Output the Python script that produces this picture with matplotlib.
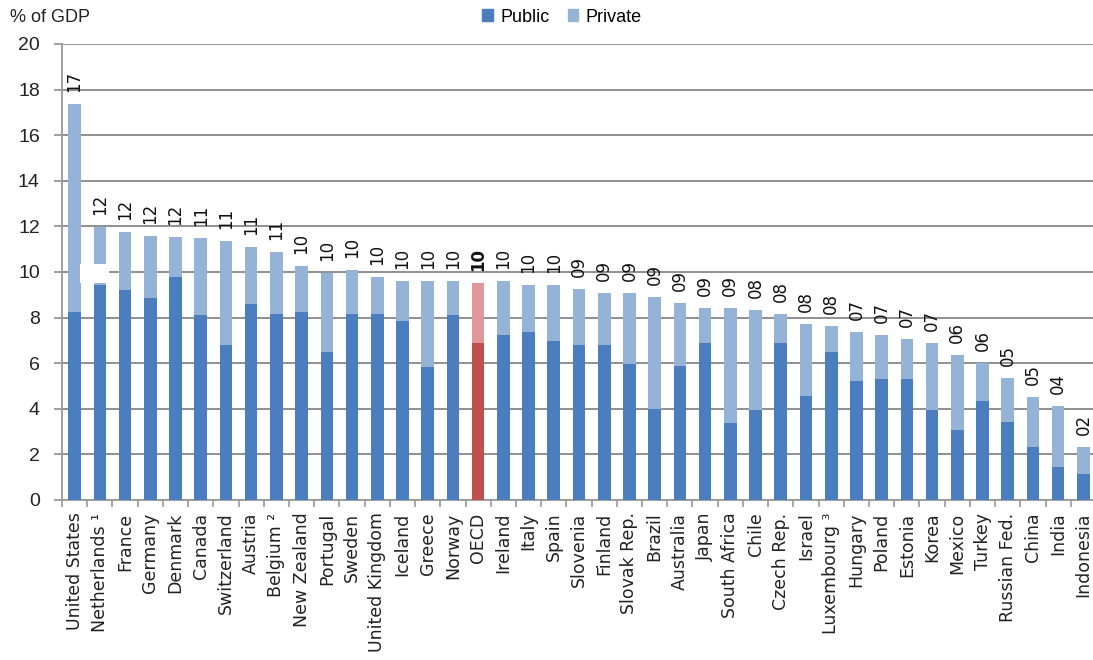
import matplotlib
matplotlib.use("Agg")
import matplotlib.pyplot as plt
from matplotlib.patches import Patch
import numpy as np

countries = [
    "United States", "Netherlands \u00b9", "France", "Germany", "Denmark", "Canada",
    "Switzerland", "Austria", "Belgium \u00b2", "New Zealand", "Portugal", "Sweden",
    "United Kingdom", "Iceland", "Greece", "Norway", "OECD", "Ireland", "Italy",
    "Spain", "Slovenia", "Finland", "Slovak Rep.", "Brazil", "Australia", "Japan",
    "South Africa", "Chile", "Czech Rep.", "Israel", "Luxembourg \u00b3", "Hungary",
    "Poland", "Estonia", "Korea", "Mexico", "Turkey", "Russian Fed.", "China",
    "India", "Indonesia",
]

public = [
    8.26, 9.45, 9.19, 8.84, 9.77, 8.10, 6.81, 8.61, 8.17, 8.26, 6.47, 8.17,
    8.17, 7.83, 5.82, 8.10, 6.88, 7.23, 7.35, 6.98, 6.79, 6.79, 5.96, 4.00,
    5.89, 6.88, 3.39, 3.93, 6.88, 4.54, 6.47, 5.21, 5.29, 5.29, 3.93, 3.08,
    4.36, 3.42, 2.33, 1.43, 1.16,
]

total = [
    17.39, 11.96, 11.77, 11.60, 11.52, 11.50, 11.35, 11.10, 10.88, 10.27, 9.96, 10.10,
    9.77, 9.60, 9.60, 9.60, 9.51, 9.60, 9.43, 9.43, 9.25, 9.08, 9.08, 8.92,
    8.65, 8.41, 8.41, 8.32, 8.16, 7.74, 7.64, 7.39, 7.24, 7.04, 6.88, 6.37,
    5.99, 5.37, 4.51, 4.12, 2.33,
]

value_labels = [
    "17", "12", "12", "12", "12", "11", "11", "11", "11", "10", "10", "10",
    "10", "10", "10", "10", "10", "10", "10", "10", "09", "09", "09", "09",
    "09", "09", "09", "08", "08", "08", "08", "07", "07", "07", "07", "06",
    "06", "05", "05", "04", "02",
]

# Axis break drawn across the Netherlands bar
break_country = "Netherlands \u00b9"
break_range = (9.50, 10.37)

y_ticks = [0, 2, 4, 6, 8, 10, 12, 14, 16, 18, 20]
highlight = "OECD"

PUBLIC_C = "#4a7ebf"
PRIVATE_C = "#95b3d7"
PUBLIC_HI = "#c0504d"
PRIVATE_HI = "#e0979b"

private = [t - p for t, p in zip(total, public)]
x = np.arange(len(countries))
hi = countries.index(highlight)

fig = plt.figure(figsize=(10.93, 6.60), dpi=100)
ax = fig.add_axes([62 / 1093, 160 / 660, 1034 / 1093, 456 / 660])

pub_colors = [PUBLIC_HI if c == highlight else PUBLIC_C for c in countries]
prv_colors = [PRIVATE_HI if c == highlight else PRIVATE_C for c in countries]

bw = 0.5
ax.bar(x, public, width=bw, color=pub_colors, zorder=3, linewidth=0)
ax.bar(x, private, bottom=public, width=bw, color=prv_colors, zorder=3, linewidth=0)

# white break patch
bi = countries.index(break_country)
ax.bar(x[bi] - 0.2, break_range[1] - break_range[0], bottom=break_range[0],
       width=1.15, color="white", zorder=4, linewidth=0)

for i, (t, lab) in enumerate(zip(total, value_labels)):
    ax.annotate(lab, xy=(x[i], t), xytext=(0, 12), textcoords="offset pixels",
                rotation=90, ha="center", va="bottom", fontsize=12,
                family="DejaVu Sans",
                fontweight="bold" if i == hi else "normal",
                color="#111111", zorder=5)

ax.set_xlim(-0.5, len(countries) - 0.5)
ax.set_ylim(0, 20)
ax.set_yticks(y_ticks)
ax.set_yticklabels([str(v) for v in y_ticks], fontsize=14, family="Liberation Sans",
                   color="#222222")
ax.yaxis.grid(True, color="#8f8f8f", linewidth=1.4, zorder=0)
ax.set_axisbelow(True)

ax.set_xticks(x)
ax.set_xticklabels(countries, rotation=90, fontsize=12.5, family="DejaVu Sans",
                   va="top", ha="center", color="#222222")
ax.set_xticks(np.arange(-0.5, len(countries), 1.0), minor=True)
ax.tick_params(axis="x", which="major", length=0, pad=9)
ax.tick_params(axis="x", which="minor", length=5, color="#999999", width=1.2)
ax.tick_params(axis="y", length=6, color="#8f8f8f", width=1.2, pad=10)

for s in ("top", "right"):
    ax.spines[s].set_visible(False)
for s in ("left", "bottom"):
    ax.spines[s].set_color("#999999")
    ax.spines[s].set_linewidth(1.3)

fig.text(10 / 1093, 1 - 18 / 660, "% of GDP", fontsize=13, family="Liberation Sans",
         ha="left", va="center", color="#222222")

handles = [Patch(color=PUBLIC_C, label="Public"), Patch(color=PRIVATE_C, label="Private")]
fig.legend(handles=handles, loc="center", bbox_to_anchor=(562 / 1093, 1 - 17 / 660),
           ncol=2, frameon=False, fontsize=13, prop={"family": "Liberation Sans", "size": 13},
           handlelength=0.6, handleheight=0.6, handletextpad=0.4, columnspacing=1.0,
           borderpad=0)

fig.savefig("out.png", dpi=100, facecolor="white")
